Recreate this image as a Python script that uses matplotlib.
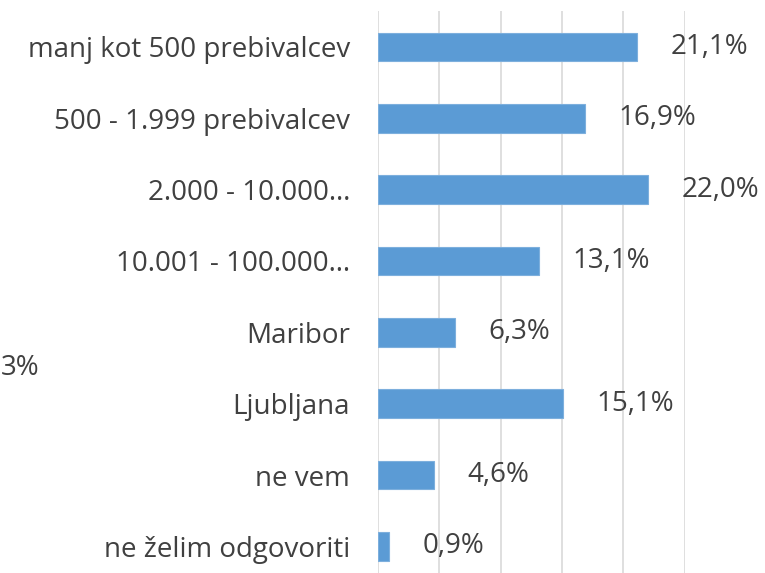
import matplotlib.pyplot as plt

# Data
categories = ["manj kot 500 prebivalcev", "500 - 1.999 prebivalcev", "2.000 - 10.000…",
              "10.001 - 100.000…", "Maribor", "Ljubljana", "ne vem", "ne želim odgovoriti"]
values = [21.1, 16.9, 22.0, 13.1, 6.3, 15.1, 4.6, 0.9]
value_labels = ["21,1%", "16,9%", "22,0%", "13,1%", "6,3%", "15,1%", "4,6%", "0,9%"]

plt.rcParams['font.family'] = ['Open Sans', 'DejaVu Sans']

fig = plt.figure(figsize=(7.65, 5.73), dpi=100)
ax = fig.add_axes([0.494, -0.016, 0.401, 0.9965])

y = list(range(len(categories)))
ax.barh(y, values, height=0.4, color="#5B9BD5", edgecolor="#7DAFDD", linewidth=0.8, zorder=3)

for yi, v, lab in zip(y, values, value_labels):
    ax.annotate(lab, (v, yi), xytext=(24, 0), textcoords="offset points",
                va="center", ha="left", fontsize=20, color="#404040")

ax.set_xlim(0, 25)
ax.set_ylim(7.5, -0.5)
ax.set_xticks([0, 5, 10, 15, 20, 25])
ax.set_xticklabels([])
ax.set_yticks(y)
ax.set_yticklabels(categories, fontsize=20, color="#404040")
ax.tick_params(axis="y", length=0, pad=20)
ax.tick_params(axis="x", length=0)
ax.grid(axis="x", color="#D9D9D9", linewidth=1.2, zorder=0)
for s in ax.spines.values():
    s.set_visible(False)

# label at the left edge (from a neighbouring chart)
fig.text(0.001, 1 - 368 / 573, "3%", ha="left", va="center", fontsize=20, color="#404040")

fig.savefig("out.png", dpi=100)
